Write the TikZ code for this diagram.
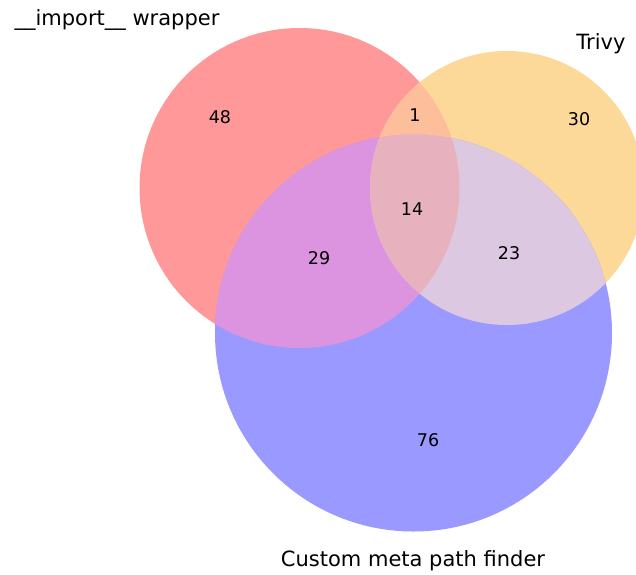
\documentclass[tikz,border=0pt]{standalone}
\usepackage{fontspec}
\setmainfont{DejaVu Sans}
\definecolor{SetA}{RGB}{255,153,153}
\definecolor{SetB}{RGB}{253,217,153}
\definecolor{SetC}{RGB}{153,153,255}
\definecolor{SetAB}{RGB}{253,190,155}
\definecolor{SetAC}{RGB}{221,148,224}
\definecolor{SetBC}{RGB}{220,200,224}
\definecolor{SetABC}{RGB}{231,178,190}
\tikzset{
  setlabel/.style={font=\fontsize{21}{21}\selectfont},
  count/.style={font=\fontsize{17.5}{17.5}\selectfont}
}
\begin{document}
\begin{tikzpicture}[x=1pt,y=-1pt]
    \clip (0,0) rectangle (636,574);
    \fill[white] (0,0) rectangle (636,574);
    \def\circA{(299.5,188) circle [radius=160]}
    \def\circB{(507,188) circle [radius=137]}
    \def\circC{(413.5,333) circle [radius=198.5]}

    % single sets
    \fill[SetA] \circA;
    \fill[SetB] \circB;
    \fill[SetC] \circC;
    % overlaps
    \begin{scope}
        \clip \circA;
        \fill[SetAB] \circB;
        \fill[SetAC] \circC;
    \end{scope}
    \begin{scope}
        \clip \circB;
        \fill[SetBC] \circC;
    \end{scope}
    \begin{scope}
        \clip \circA;
        \clip \circB;
        \fill[SetABC] \circC;
    \end{scope}

    \node[setlabel] (labA) at (117,20) {\_\_import\_\_ wrapper};
    \node[setlabel] (labB) at (601,44) {Trivy};
    \node[setlabel] (labC) at (413,561) {Custom meta path finder};

    \node[count] (nA) at (220,117) {48};
    \node[count] (nAB) at (415,115) {1};
    \node[count] (nB) at (579,119) {30};
    \node[count] (nABC) at (412,209) {14};
    \node[count] (nAC) at (319,258) {29};
    \node[count] (nBC) at (509,253) {23};
    \node[count] (nC) at (428,440) {76};
\end{tikzpicture}
\end{document}
